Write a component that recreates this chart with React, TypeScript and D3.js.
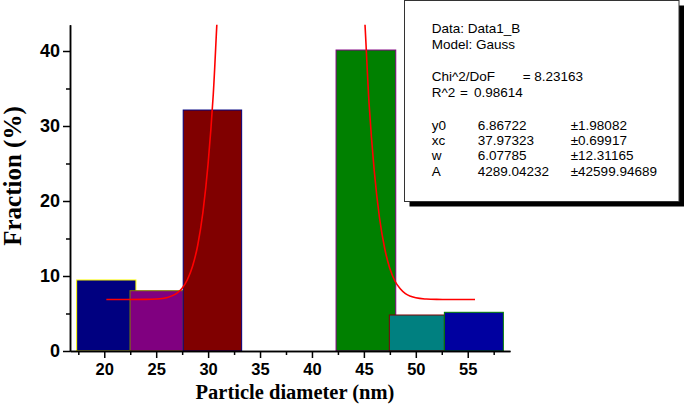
import React, { useRef, useEffect } from "react";
import * as d3 from "d3";

// histogram bins (left edge, right edge, fraction %)
const binStart = [17.34, 22.48, 27.6, 42.32, 47.45, 52.75];
const binEnd = [23.05, 27.6, 33.23, 48.07, 52.75, 58.43];
const binValue = [9.47, 8.04, 32.13, 40.13, 4.8, 5.16];
const binFill = ["#000080", "#800080", "#800000", "#008000", "#008080", "#0000A0"];
const binEdge = ["#FFFF00", "#808000", "#000080", "#800080", "#800000", "#008000"];

// Gauss fit line
const fitX = [20.2, 22, 24, 25, 26, 26.5, 27, 27.5, 28, 28.5, 29, 29.5, 30, 30.5, 31, 31.3,
  44.6, 45, 45.5, 46, 46.5, 47, 47.5, 48, 48.5, 49, 49.5, 50, 51, 52, 53, 55.7];
const fitY = [6.87, 6.87, 6.88, 6.93, 7.11, 7.35, 7.71, 8.37, 9.5, 11.3, 14.1, 18.5, 25.0, 34.3, 47.4, 52,
  52, 46.0, 33.0, 24.0, 17.8, 13.7, 11.0, 9.3, 8.3, 7.65, 7.3, 7.09, 6.93, 6.88, 6.87, 6.87];

const xMajor = [20, 25, 30, 35, 40, 45, 50, 55];
const xMinor = [17.5, 22.5, 27.5, 32.5, 37.5, 42.5, 47.5, 52.5, 57.5];
const yMajor = [0, 10, 20, 30, 40];
const yMinor = [5, 15, 25, 35];

const statHead = ["Data: Data1_B", "Model: Gauss"];
const statParams = ["y0", "xc", "w", "A"];
const statValues = ["6.86722", "37.97323", "6.07785", "4289.04232"];
const statErrors = ["±1.98082", "±0.69917", "±12.31165", "±42599.94689"];

const W = 685;
const H = 408;
const plot = { left: 70, right: 510, top: 24.75, bottom: 351 };

export default function App() {
  const xAxisRef = useRef<SVGGElement>(null);
  const yAxisRef = useRef<SVGGElement>(null);

  const x = d3.scaleLinear().domain([16.7, 59.07]).range([plot.left, plot.right]);
  const y = d3.scaleLinear().domain([0, 43.5]).range([plot.bottom, plot.top]);

  const fitLine = d3
    .line<number>()
    .x((d, i) => x(fitX[i]))
    .y((d) => y(d))
    .curve(d3.curveMonotoneX);

  useEffect(() => {
    const gx = d3.select(xAxisRef.current);
    gx.selectAll("*").remove();
    gx.append("g")
      .call(d3.axisBottom(x).tickValues(xMinor).tickSize(4).tickSizeOuter(0).tickFormat(() => ""));
    gx.append("g")
      .call(d3.axisBottom(x).tickValues(xMajor).tickSize(7).tickSizeOuter(0).tickPadding(5));
    gx.selectAll("path").attr("stroke-width", 1.5);
    gx.selectAll("line").attr("stroke-width", 1.5);
    gx.selectAll("text")
      .attr("font-family", "Liberation Sans, Arial, sans-serif")
      .attr("font-weight", "bold")
      .attr("font-size", 16.5)
      .attr("fill", "#000");

    const gy = d3.select(yAxisRef.current);
    gy.selectAll("*").remove();
    gy.append("g")
      .call(d3.axisLeft(y).tickValues(yMinor).tickSize(4).tickSizeOuter(0).tickFormat(() => ""));
    gy.append("g")
      .call(d3.axisLeft(y).tickValues(yMajor).tickSize(7).tickSizeOuter(0).tickPadding(3));
    gy.selectAll("path").attr("stroke-width", 1.5);
    gy.selectAll("line").attr("stroke-width", 1.5);
    gy.selectAll("text")
      .attr("font-family", "Liberation Sans, Arial, sans-serif")
      .attr("font-weight", "bold")
      .attr("font-size", 18)
      .attr("fill", "#000");
  }, []);

  const boxX = 404.5;
  const boxY = 0.5;
  const boxW = 274.5;
  const boxH = 201;
  const col1 = 431.7;
  const col2 = 477.7;
  const col3 = 570.7;

  return (
    <svg width={W} height={H} style={{ position: "absolute", left: 0, top: 0, background: "#fff" }}>
      <defs>
        <clipPath id="plotClip">
          <rect x={plot.left} y={plot.top} width={plot.right - plot.left} height={plot.bottom - plot.top} />
        </clipPath>
      </defs>

      {binValue.map((v, i) => (
        <rect
          key={i}
          x={x(binStart[i])}
          y={y(v)}
          width={x(binEnd[i]) - x(binStart[i])}
          height={y(0) - y(v)}
          fill={binFill[i]}
          stroke={binEdge[i]}
          strokeWidth={1}
        />
      ))}

      <path
        d={fitLine(fitY) || ""}
        fill="none"
        stroke="#FF0000"
        strokeWidth={1.6}
        clipPath="url(#plotClip)"
      />

      <g ref={xAxisRef} transform={`translate(0,${plot.bottom})`} />
      <g ref={yAxisRef} transform={`translate(${plot.left},0)`} />

      <text
        x={295}
        y={399}
        textAnchor="middle"
        fontFamily="Liberation Serif, Times New Roman, serif"
        fontWeight="bold"
        fontSize={20.5}
      >
        Particle diameter (nm)
      </text>
      <text
        transform={`translate(21,176) rotate(-90)`}
        textAnchor="middle"
        fontFamily="Liberation Serif, Times New Roman, serif"
        fontWeight="bold"
        fontSize={25}
      >
        Fraction (%)
      </text>

      {/* fit statistics box */}
      <rect x={boxX + 5} y={boxY + 5} width={boxW} height={boxH} fill="#000" />
      <rect x={boxX} y={boxY} width={boxW} height={boxH} fill="#fff" stroke="#333" strokeWidth={1} />
      <g fontFamily="Liberation Sans, Arial, sans-serif" fontSize={13.5} fill="#000">
        {statHead.map((t, i) => (
          <text key={t} x={col1} y={33.3 + i * 15.2}>{t}</text>
        ))}
        <text x={col1} y={81}>Chi^2/DoF</text>
        <text x={522.7} y={81}>= 8.23163</text>
        <text x={col1} y={96.7}>R^2</text>
        <text x={460} y={96.7}>=</text>
        <text x={474} y={96.7}>0.98614</text>
        {statParams.map((p, i) => (
          <g key={p}>
            <text x={col1} y={130 + i * 15.2}>{p}</text>
            <text x={col2} y={130 + i * 15.2}>{statValues[i]}</text>
            <text x={col3} y={130 + i * 15.2}>{statErrors[i]}</text>
          </g>
        ))}
      </g>
    </svg>
  );
}
